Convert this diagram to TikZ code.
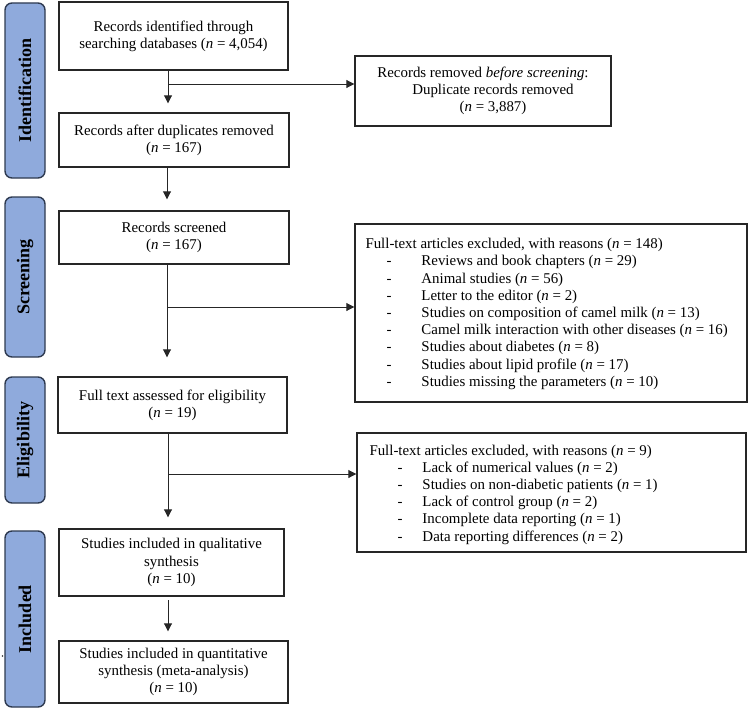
\documentclass[tikz,border=0pt]{standalone}
\usepackage{fontspec}
\setmainfont{Liberation Serif}
\usetikzlibrary{arrows.meta}
\definecolor{lblfill}{HTML}{8FAADC}
\definecolor{lbldraw}{HTML}{2E3A50}
\newcommand{\itmA}{\hspace*{21pt}\makebox[35pt][l]{-}}
\newcommand{\itmB}{\hspace*{28pt}\makebox[25pt][l]{-}}
\begin{document}
\begin{tikzpicture}[x=1pt,y=-1pt,
  txt/.style={font=\fontsize{14.9}{17.2}\selectfont},
  box/.style={txt,draw=black!85,line width=1.4pt,inner sep=0pt,align=center},
  frame/.style={draw=black!85,line width=1.4pt,inner sep=0pt},
  ltxt/.style={txt,inner sep=0pt,align=left,anchor=west},
  lbl/.style={draw=lbldraw,fill=lblfill,line width=1.4pt,rounded corners=7pt,
    minimum width=40pt,inner sep=0pt,font=\fontsize{18}{20}\selectfont\bfseries},
  arr/.style={draw=black!85,line width=0.9pt,-{Triangle[length=8pt,width=8pt]}}]
\useasboundingbox (0,0) rectangle (749,709);

% stage labels
\node[lbl,minimum height=175pt] (L1) at (25,90.5) {\rotatebox{90}{Identification}};
\node[lbl,minimum height=160pt] (L2) at (25,277) {\rotatebox{90}{Screening}};
\node[lbl,minimum height=126pt] (L3) at (25,440) {\rotatebox{90}{Eligibility}};
\node[lbl,minimum height=176pt] (L4) at (25,619) {\rotatebox{90}{Included}};
\node[circle,fill=black!80,inner sep=0pt,minimum size=1.6pt] (dot) at (2.5,656) {};

% main boxes
\node[box,minimum width=229pt,minimum height=68pt] (B1) at (173.5,36)
  {Records identified through\\searching databases (\textit{n} = 4,054)};
\node[box,minimum width=230pt,minimum height=54pt] (B2) at (174,140)
  {Records after duplicates removed\\(\textit{n} = 167)};
\node[box,minimum width=230pt,minimum height=53pt] (B3) at (174,237.5)
  {Records screened\\(\textit{n} = 167)};
\node[box,minimum width=229pt,minimum height=56pt] (B4) at (172.5,405)
  {Full text assessed for eligibility\\(\textit{n} = 19)};
\node[box,minimum width=225pt,minimum height=67pt] (B5) at (171.5,562.5)
  {Studies included in qualitative\\synthesis\\(\textit{n} = 10)};
\node[box,minimum width=229pt,minimum height=62pt] (B6) at (173.5,672)
  {Studies included in quantitative\\synthesis (meta-analysis)\\(\textit{n} = 10)};

% side boxes
\node[box,minimum width=256pt,minimum height=70pt] (R1) at (483,91)
  {Records removed \textit{before screening}:\\
   \hspace*{20pt}Duplicate records removed\\
   \hspace*{20pt}(\textit{n} = 3,887)};
\node[frame,minimum width=392pt,minimum height=178pt] (R2) at (551,313) {};
\node[ltxt] (R2t) at ([xshift=11pt,yshift=-1pt]R2.west)
  {Full-text articles excluded, with reasons (\textit{n} = 148)\\
   \itmA Reviews and book chapters (\textit{n} = 29)\\
   \itmA Animal studies (\textit{n} = 56)\\
   \itmA Letter to the editor (\textit{n} = 2)\\
   \itmA Studies on composition of camel milk (\textit{n} = 13)\\
   \itmA Camel milk interaction with other diseases (\textit{n} = 16)\\
   \itmA Studies about diabetes (\textit{n} = 8)\\
   \itmA Studies about lipid profile (\textit{n} = 17)\\
   \itmA Studies missing the parameters (\textit{n} = 10)};
\node[frame,minimum width=389pt,minimum height=119pt] (R3) at (551.5,492.5) {};
\node[ltxt] (R3t) at ([xshift=13pt,yshift=-2pt]R3.west)
  {Full-text articles excluded, with reasons (\textit{n} = 9)\\
   \itmB Lack of numerical values (\textit{n} = 2)\\
   \itmB Studies on non-diabetic patients (\textit{n} = 1)\\
   \itmB Lack of control group (\textit{n} = 2)\\
   \itmB Incomplete data reporting (\textit{n} = 1)\\
   \itmB Data reporting differences (\textit{n} = 2)};

% branch points
\coordinate (c1) at (168,84);
\coordinate (c2) at (167,307);
\coordinate (c3) at (168,474);
\coordinate (c4) at (168,600);

% connectors
\draw[arr,shorten >=9pt] (B1.south -| c1) -- (B2.north -| c1);
\draw[arr] (c1) -- (c1 -| R1.west);
\draw[arr,shorten >=11pt] (B2.south -| c2) -- (B3.north -| c2);
\draw[arr,shorten >=19pt] (B3.south -| c2) -- (B4.north -| c2);
\draw[arr] (c2) -- (c2 -| R2.west);
\draw[arr,shorten >=11pt] (B4.south -| c3) -- (B5.north -| c3);
\draw[arr] (c3) -- (c3 -| R3.west);
\draw[arr,shorten >=9pt] (c4) -- (B6.north -| c4);
\end{tikzpicture}
\end{document}
